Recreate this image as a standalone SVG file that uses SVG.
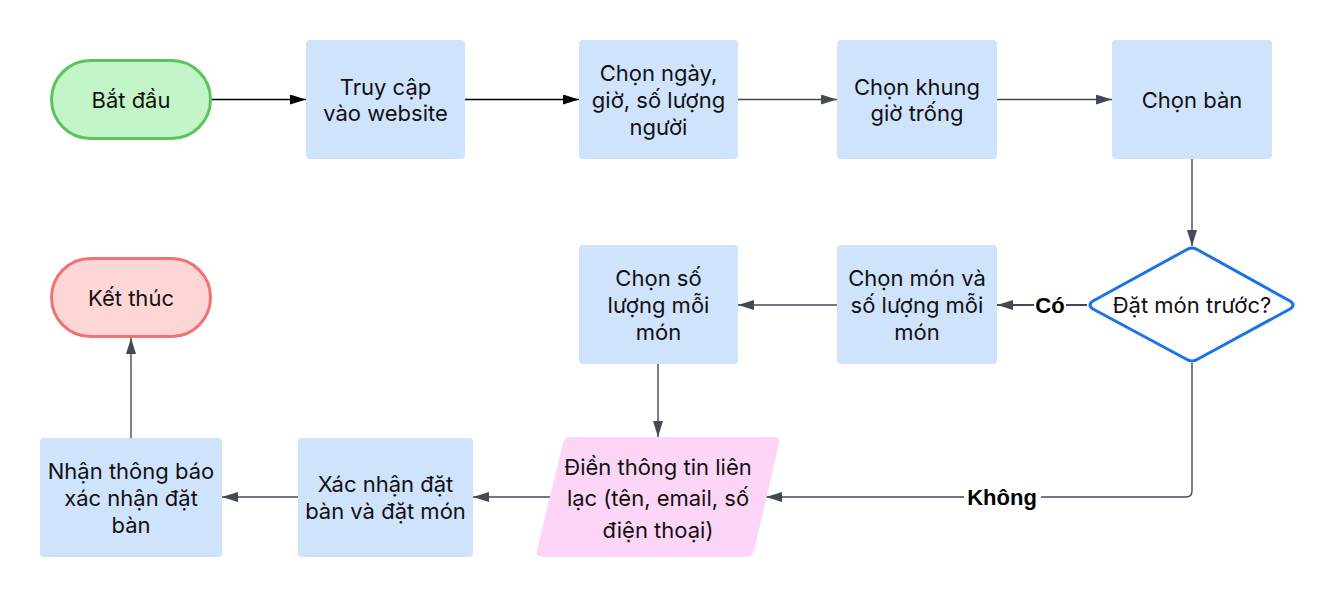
<svg xmlns="http://www.w3.org/2000/svg" width="1339" height="599" viewBox="0 0 1339 599">
<defs>
<style>
.box{fill:#cfe3fd;}
.t{font-family:Inter,"Noto Sans",sans-serif;font-size:22px;fill:#111;text-anchor:middle;}
.lbl{font-family:"Liberation Sans",Arial,sans-serif;font-size:22px;font-weight:bold;fill:#000;text-anchor:middle;}
.c{fill:none;stroke:#444a55;stroke-width:1.4;}
.cb{fill:none;stroke:#000;stroke-width:1.4;}
</style>
<marker id="ah" viewBox="0 0 16 10" refX="16" refY="5" markerWidth="16" markerHeight="10" markerUnits="userSpaceOnUse" orient="auto">
<path d="M0,0 L16,5 L0,10 Z" fill="#444a55"/>
</marker>
<marker id="ahb" viewBox="0 0 16 10" refX="16" refY="5" markerWidth="16" markerHeight="10" markerUnits="userSpaceOnUse" orient="auto">
<path d="M0,0 L16,5 L0,10 Z" fill="#000"/>
</marker>
</defs>
<rect width="1339" height="599" fill="#fff"/>

<g id="connectors">
<line class="cb" x1="212" y1="99.5" x2="306" y2="99.5" marker-end="url(#ahb)"/>
<line class="cb" x1="465" y1="99.5" x2="579" y2="99.5" marker-end="url(#ahb)"/>
<line class="c" x1="738" y1="99.5" x2="837" y2="99.5" marker-end="url(#ah)"/>
<line class="c" x1="997" y1="99.5" x2="1112" y2="99.5" marker-end="url(#ah)"/>
<line class="c" x1="1192" y1="159" x2="1192" y2="246" marker-end="url(#ah)"/>
<line class="c" x1="1087" y1="305" x2="997" y2="305" style="stroke-width:2.2" marker-end="url(#ah)"/>
<rect x="1034" y="292" width="32" height="26" fill="#fff"/>
<text class="lbl" x="1050" y="313">Có</text>
<line class="c" x1="837" y1="305" x2="738" y2="305" marker-end="url(#ah)"/>
<line class="c" x1="658" y1="364" x2="658" y2="437" marker-end="url(#ah)"/>
<path class="c" d="M1192,363 L1192,491 Q1192,497 1186,497 L766,497" marker-end="url(#ah)"/>
<rect x="964" y="484" width="77" height="26" fill="#fff"/>
<text class="lbl" x="1002" y="505">Không</text>
<line class="c" x1="550" y1="497" x2="473" y2="497" marker-end="url(#ah)"/>
<line class="c" x1="298" y1="497" x2="222" y2="497" marker-end="url(#ah)"/>
<line class="c" x1="131" y1="438" x2="131" y2="338" marker-end="url(#ah)"/>
</g>

<g id="start">
<rect x="51.5" y="60.5" width="159" height="78" rx="39" fill="#c3f5c8" stroke="#5bc55b" stroke-width="3"/>
<text class="t" x="131" y="108">Bắt đầu</text>
</g>

<g id="truy-cap">
<rect class="box" x="306" y="40" width="159" height="119" rx="4"/>
<text class="t" x="385.5" y="95">Truy cập</text>
<text class="t" x="385.5" y="121">vào website</text>
</g>

<g id="chon-ngay">
<rect class="box" x="579" y="40" width="159" height="119" rx="4"/>
<text class="t" x="658.5" y="81">Chọn ngày,</text>
<text class="t" x="658.5" y="108">giờ, số lượng</text>
<text class="t" x="658.5" y="135">người</text>
</g>

<g id="chon-khung">
<rect class="box" x="837" y="40" width="160" height="119" rx="4"/>
<text class="t" x="917" y="95">Chọn khung</text>
<text class="t" x="917" y="121">giờ trống</text>
</g>

<g id="chon-ban">
<rect class="box" x="1112" y="40" width="160" height="119" rx="4"/>
<text class="t" x="1192" y="108">Chọn bàn</text>
</g>

<g id="decision">
<path d="M1186,250 Q1192,246 1198,250 L1290,301 Q1296,305 1290,309 L1198,359 Q1192,363 1186,359 L1093,309 Q1087,305 1093,301 Z" fill="#fff" stroke="#1a73e8" stroke-width="3" stroke-linejoin="round"/>
<text class="t" x="1192" y="313">Đặt món trước?</text>
</g>

<g id="chon-mon">
<rect class="box" x="837" y="245" width="160" height="119" rx="4"/>
<text class="t" x="917" y="286">Chọn món và</text>
<text class="t" x="917" y="313">số lượng mỗi</text>
<text class="t" x="917" y="340">món</text>
</g>

<g id="chon-so-luong">
<rect class="box" x="579" y="245" width="159" height="119" rx="4"/>
<text class="t" x="658.5" y="286">Chọn số</text>
<text class="t" x="658.5" y="313">lượng mỗi</text>
<text class="t" x="658.5" y="340">món</text>
</g>

<g id="dien-thong-tin">
<path d="M571,437 L774,437 Q781,437 779,444 L754,551 Q752,557 745,557 L543,557 Q535,557 537,550 L563,443 Q565,437 571,437 Z" fill="#fdd5f6"/>
<text class="t" x="658" y="475">Điền thông tin liên</text>
<text class="t" x="658" y="506">lạc (tên, email, số</text>
<text class="t" x="658" y="538">điện thoại)</text>
</g>

<g id="xac-nhan">
<rect class="box" x="298" y="438" width="175" height="119" rx="4"/>
<text class="t" x="385.5" y="492">Xác nhận đặt</text>
<text class="t" x="385.5" y="519">bàn và đặt món</text>
</g>

<g id="nhan-thong-bao">
<rect class="box" x="40" y="438" width="182" height="119" rx="4"/>
<text class="t" x="131" y="479">Nhận thông báo</text>
<text class="t" x="131" y="506">xác nhận đặt</text>
<text class="t" x="131" y="533">bàn</text>
</g>

<g id="end">
<rect x="51.5" y="258.5" width="159" height="78" rx="39" fill="#ffd6d6" stroke="#f07272" stroke-width="3"/>
<text class="t" x="131" y="306">Kết thúc</text>
</g>
</svg>
